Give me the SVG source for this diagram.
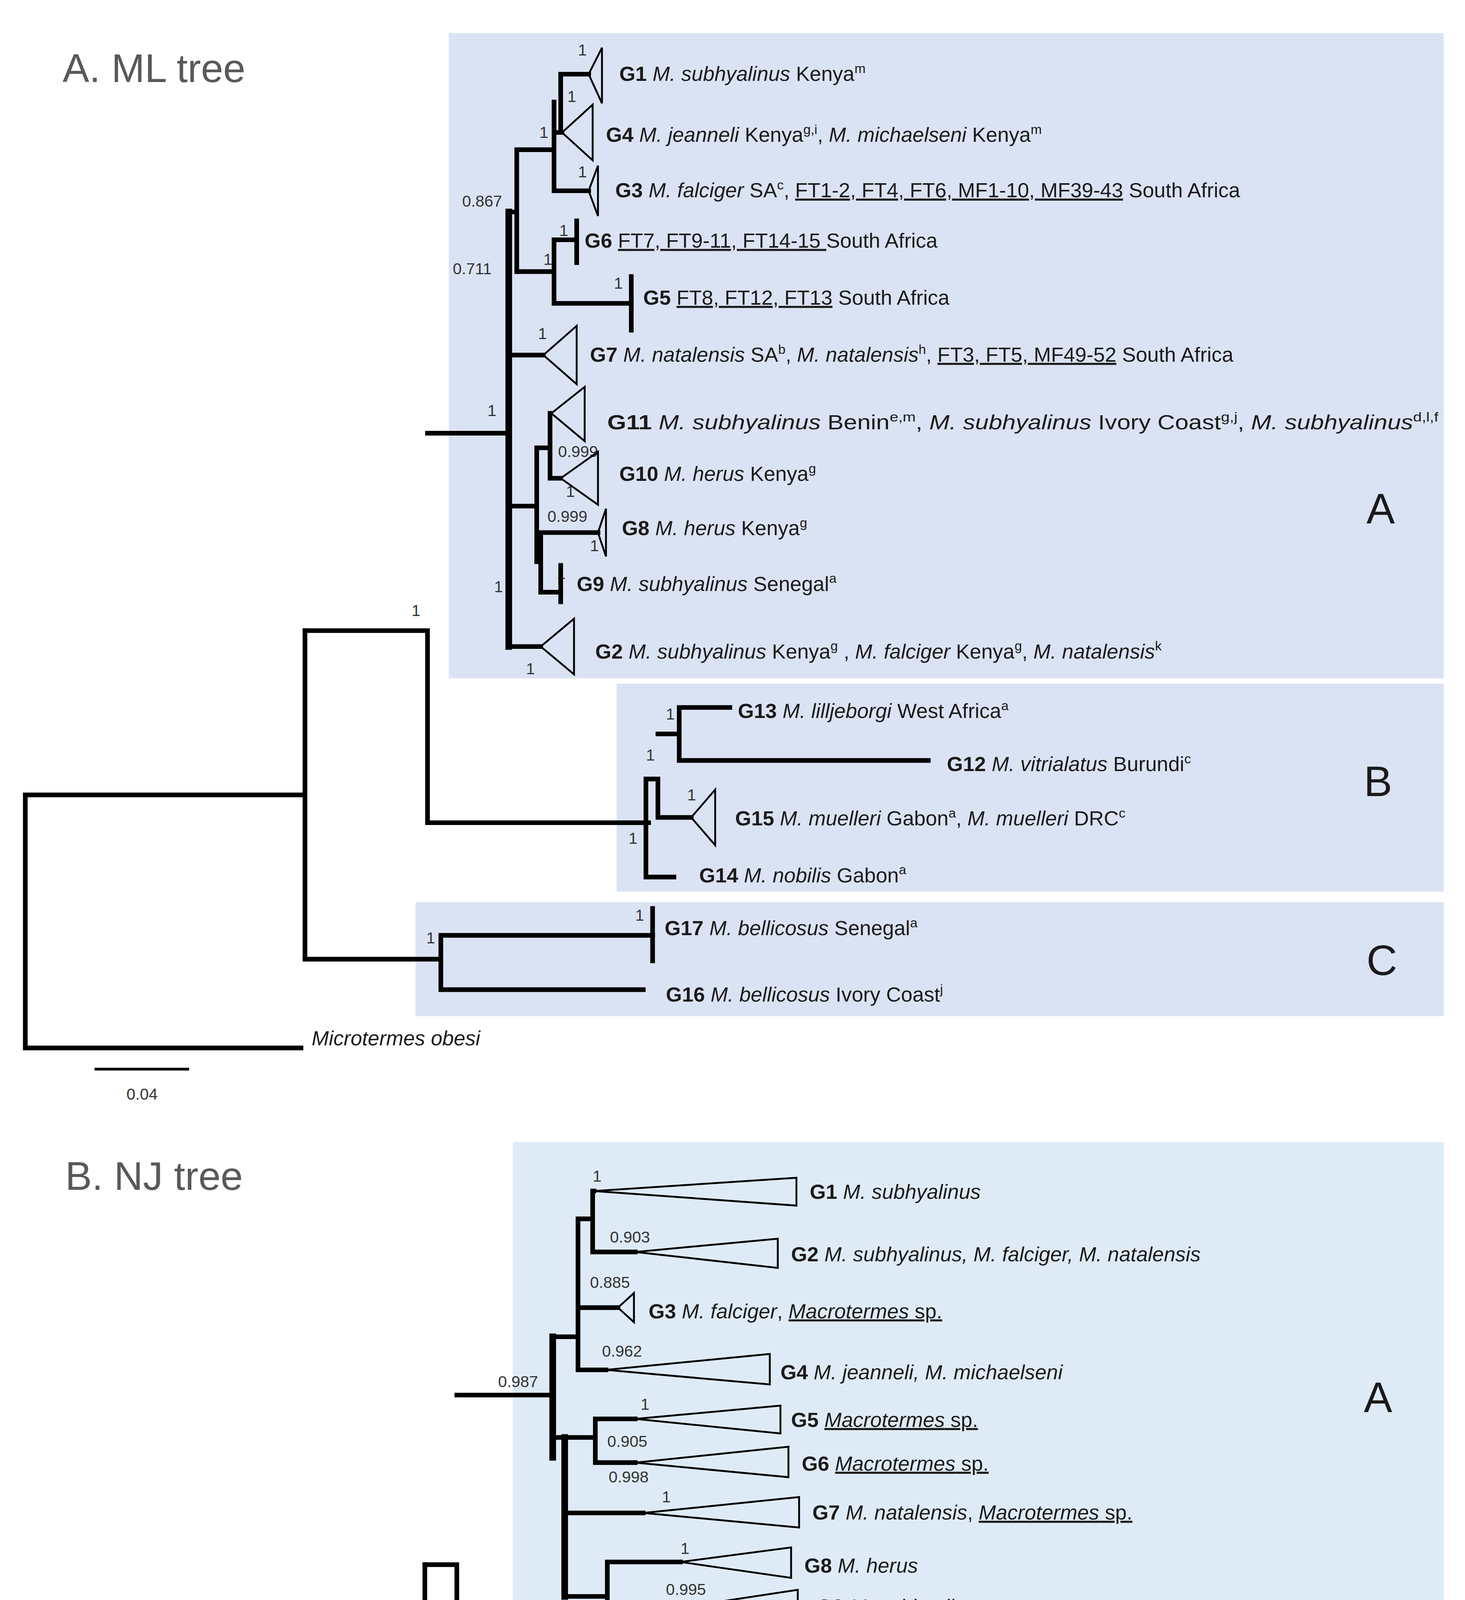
<svg xmlns="http://www.w3.org/2000/svg" width="3750" height="5318" viewBox="0 0 3750 5318">
<style>
text{font-family:"Liberation Sans",Arial,sans-serif;fill:#1a1a1a}
.lb{font-size:15.5px}
.sv{font-size:12px;fill:#333}
.ttl{font-size:30px;fill:#595959}
.cl{font-size:32px}
.b{font-weight:bold}
.i{font-style:italic}
.u{text-decoration:underline}
.sup{font-size:10px}
.br{fill:none;stroke:#000;stroke-width:3.5;stroke-linecap:square;stroke-linejoin:miter}
.tk{fill:none;stroke:#000;stroke-width:5;stroke-linecap:square}
.tri{fill:none;stroke:#000;stroke-width:1.4;stroke-linejoin:miter}
.bar{stroke:#000;stroke-width:3.5}
.sc{stroke:#000;stroke-width:2}
.bg1{fill:#dae3f3}
.bg2{fill:#deebf7}
</style>
<rect width="3750" height="5318" fill="#fff"/>
<g transform="scale(3.40909 3.39158)">
<g id="backgrounds">
<rect class="bg1" x="337" y="25" width="747" height="487"/>
<rect class="bg1" x="463" y="516" width="621" height="157"/>
<rect class="bg1" x="312" y="681" width="772" height="86"/>
<rect class="bg2" x="385" y="862" width="699" height="438"/>
<rect class="bg2" x="379" y="1306" width="705" height="117"/>
<rect class="bg2" x="379" y="1431" width="705" height="69"/>
</g>
<g id="titles">
<text class="ttl" x="47" y="62">A. ML tree</text>
<text class="ttl" x="49" y="898">B. NJ tree</text>
<text class="cl" x="1026" y="395">A</text>
<text class="cl" x="1024" y="601">B</text>
<text class="cl" x="1026" y="736">C</text>
<text class="cl" x="1024" y="1066">A</text>
<text class="cl" x="1024" y="1376">B</text>
<text class="cl" x="1026" y="1480">C</text>
</g>
<g id="connectors">
<!-- ML -->
<path class="br" d="M226 600H19V791H226"/>
<path class="br" d="M229 476V723"/>
<path class="br" d="M229 476H321V621H487"/>
<path class="br" d="M321 327H382"/>
<path class="tk" d="M382 160V488"/>
<path class="br" d="M382 160H388M388 113V205M388 113H416M416 77V144M416 100H422M416 144H442M421 56H442M421 56V100"/>
<path class="br" d="M388 205H416M416 181V229M416 181H433M416 229H474"/>
<path class="br" d="M382 268H408"/>
<path class="br" d="M382 382H403M403 338V424M403 338H413M413 312V361M413 361H421M406 402V447M403 424H406M406 402H449M406 447H421"/>
<path class="br" d="M382 488H406"/>
<path class="br" d="M485 588V662H506M485 588H494V617H519M494 554H510V534H548M510 554V574H697"/>
<path class="br" d="M229 724H331V706H490M331 706V747H483"/>
<!-- NJ -->
<path class="br" d="M319 1302H131V1511H319"/>
<path class="br" d="M319 1181V1461H383"/>
<path class="br" d="M319 1181H343V1353H434M343 1053H415"/>
<path class="tk" d="M415 1009V1100"/>
<path class="br" d="M415 1009H434M434 920V1034M434 920H445M445 899V945M445 899H446M445 945H477M434 987H464M434 1034H455"/>
<path class="tk" d="M424 1085V1205"/>
<path class="br" d="M415 1085H447M447 1071V1104M447 1071H477M447 1104H477M424 1142H483M424 1205H456M456 1179V1232M456 1179H511M456 1232H476"/>
<path class="tk" d="M476 1211V1280"/>
<path class="br" d="M476 1211H527M476 1244H521M476 1280H497"/>
<path class="br" d="M434 1318V1388M434 1318H616M434 1388H467M467 1365V1413M467 1365H486M486 1347V1379M486 1347H584M486 1379H553M467 1413H511"/>
<path class="br" d="M383 1442V1476M383 1442H600M383 1476H586"/>
<line class="sc" x1="71" y1="807" x2="142" y2="807"/>
<line class="sc" x1="160" y1="1527" x2="249" y2="1527"/>
</g>
<g id="support">
<text class="sv" x="434" y="42">1</text>
<text class="sv" x="426" y="77">1</text>
<text class="sv" x="405" y="104">1</text>
<text class="sv" x="434" y="134">1</text>
<text class="sv" x="347" y="156">0.867</text>
<text class="sv" x="340" y="207">0.711</text>
<text class="sv" x="420" y="178">1</text>
<text class="sv" x="408" y="200">1</text>
<text class="sv" x="461" y="218">1</text>
<text class="sv" x="404" y="256">1</text>
<text class="sv" x="366" y="314">1</text>
<text class="sv" x="419" y="345">0.999</text>
<text class="sv" x="425" y="375">1</text>
<text class="sv" x="411" y="394">0.999</text>
<text class="sv" x="443" y="416">1</text>
<text class="sv" x="418" y="437">1</text>
<text class="sv" x="371" y="447">1</text>
<text class="sv" x="395" y="509">1</text>
<text class="sv" x="309" y="465">1</text>
<text class="sv" x="500" y="543">1</text>
<text class="sv" x="485" y="574">1</text>
<text class="sv" x="516" y="604">1</text>
<text class="sv" x="472" y="637">1</text>
<text class="sv" x="320" y="712">1</text>
<text class="sv" x="477" y="695">1</text>
<text class="sv" x="445" y="892">1</text>
<text class="sv" x="458" y="938">0.903</text>
<text class="sv" x="443" y="972">0.885</text>
<text class="sv" x="452" y="1024">0.962</text>
<text class="sv" x="374" y="1047">0.987</text>
<text class="sv" x="481" y="1064">1</text>
<text class="sv" x="456" y="1092">0.905</text>
<text class="sv" x="457" y="1119">0.998</text>
<text class="sv" x="497" y="1134">1</text>
<text class="sv" x="511" y="1173">1</text>
<text class="sv" x="500" y="1204">0.995</text>
<text class="sv" x="497" y="1238">0.959</text>
<text class="sv" x="394" y="1342">0.962</text>
<text class="sv" x="479" y="1398">0.995</text>
<text class="sv" x="395" y="1467">0.894</text>
<text class="sv" x="577" y="1472">1</text>
<text class="sv" x="95" y="830">0.04</text>
<text class="sv" x="191" y="1550">0.02</text>
</g>
<g id="ml-G1"><path class="tri" d="M442 56L452 36V78Z"/><text class="lb" x="465" y="61"><tspan class="b">G1</tspan> <tspan class="i">M. subhyalinus</tspan> Kenya<tspan class="sup" dy="-6">m</tspan></text></g>
<g id="ml-G4"><path class="tri" d="M422 100L445 79V121Z"/><text class="lb" x="455" y="107"><tspan class="b">G4</tspan> <tspan class="i">M. jeanneli</tspan> Kenya<tspan class="sup" dy="-6">g,i</tspan><tspan dy="6">, </tspan><tspan class="i">M. michaelseni</tspan> Kenya<tspan class="sup" dy="-6">m</tspan></text></g>
<g id="ml-G3"><path class="tri" d="M442 144L449 125V163Z"/><text class="lb" x="462" y="149"><tspan class="b">G3</tspan> <tspan class="i">M. falciger</tspan> SA<tspan class="sup" dy="-6">c</tspan><tspan dy="6">, </tspan><tspan class="u">FT1-2, FT4, FT6, MF1-10, MF39-43</tspan> South Africa</text></g>
<g id="ml-G6"><line class="bar" x1="433" y1="165" x2="433" y2="200"/><text class="lb" x="439" y="187"><tspan class="b">G6</tspan> <tspan class="u">FT7, FT9-11, FT14-15 </tspan>South Africa</text></g>
<g id="ml-G5"><line class="bar" x1="474" y1="207" x2="474" y2="251"/><text class="lb" x="483" y="230"><tspan class="b">G5</tspan> <tspan class="u">FT8, FT12, FT13</tspan> South Africa</text></g>
<g id="ml-G7"><path class="tri" d="M408 268L433 246V290Z"/><text class="lb" x="443" y="273"><tspan class="b">G7</tspan> <tspan class="i">M. natalensis</tspan> SA<tspan class="sup" dy="-6">b</tspan><tspan dy="6">, </tspan><tspan class="i">M. natalensis</tspan><tspan class="sup" dy="-6">h</tspan><tspan dy="6">, </tspan><tspan class="u">FT3, FT5, MF49-52</tspan> South Africa</text></g>
<g id="ml-G11"><path class="tri" d="M414 312L439 292V333Z"/><text class="lb" x="456" y="324" textLength="624" lengthAdjust="spacingAndGlyphs"><tspan class="b">G11</tspan> <tspan class="i">M. subhyalinus</tspan> Benin<tspan class="sup" dy="-6">e,m</tspan><tspan dy="6">, </tspan><tspan class="i">M. subhyalinus</tspan> Ivory Coast<tspan class="sup" dy="-6">g,j</tspan><tspan dy="6">, </tspan><tspan class="i">M. subhyalinus</tspan><tspan class="sup" dy="-6">d,l,f</tspan></text></g>
<g id="ml-G10"><path class="tri" d="M421 361L449 341V381Z"/><text class="lb" x="465" y="363"><tspan class="b">G10</tspan> <tspan class="i">M. herus</tspan> Kenya<tspan class="sup" dy="-6">g</tspan></text></g>
<g id="ml-G8"><path class="tri" d="M449 402L455 384V420Z"/><text class="lb" x="467" y="404"><tspan class="b">G8</tspan> <tspan class="i">M. herus</tspan> Kenya<tspan class="sup" dy="-6">g</tspan></text></g>
<g id="ml-G9"><line class="bar" x1="421" y1="425" x2="421" y2="456"/><text class="lb" x="433" y="446"><tspan class="b">G9</tspan> <tspan class="i">M. subhyalinus</tspan> Senegal<tspan class="sup" dy="-6">a</tspan></text></g>
<g id="ml-G2"><path class="tri" d="M406 488L431 467V509Z"/><text class="lb" x="447" y="497"><tspan class="b">G2</tspan> <tspan class="i">M. subhyalinus</tspan> Kenya<tspan class="sup" dy="-6">g</tspan><tspan dy="6"> , </tspan><tspan class="i">M. falciger</tspan> Kenya<tspan class="sup" dy="-6">g</tspan><tspan dy="6">, </tspan><tspan class="i">M. natalensis</tspan><tspan class="sup" dy="-6">k</tspan></text></g>
<g id="ml-G13"><text class="lb" x="554" y="542"><tspan class="b">G13</tspan> <tspan class="i">M. lilljeborgi</tspan> West Africa<tspan class="sup" dy="-6">a</tspan></text></g>
<g id="ml-G12"><text class="lb" x="711" y="582"><tspan class="b">G12</tspan> <tspan class="i">M. vitrialatus</tspan> Burundi<tspan class="sup" dy="-6">c</tspan></text></g>
<g id="ml-G15"><path class="tri" d="M519 617L537 596V638Z"/><text class="lb" x="552" y="623"><tspan class="b">G15</tspan> <tspan class="i">M. muelleri</tspan> Gabon<tspan class="sup" dy="-6">a</tspan><tspan dy="6">, </tspan><tspan class="i">M. muelleri</tspan> DRC<tspan class="sup" dy="-6">c</tspan></text></g>
<g id="ml-G14"><text class="lb" x="525" y="666"><tspan class="b">G14</tspan> <tspan class="i">M. nobilis</tspan> Gabon<tspan class="sup" dy="-6">a</tspan></text></g>
<g id="ml-G17"><line class="bar" x1="490" y1="684" x2="490" y2="727"/><text class="lb" x="499" y="706"><tspan class="b">G17</tspan> <tspan class="i">M. bellicosus</tspan> Senegal<tspan class="sup" dy="-6">a</tspan></text></g>
<g id="ml-G16"><text class="lb" x="500" y="756"><tspan class="b">G16</tspan> <tspan class="i">M. bellicosus</tspan> Ivory Coast<tspan class="sup" dy="-6">j</tspan></text></g>
<g id="ml-out"><text class="lb i" x="234" y="789">Microtermes obesi</text></g>

<g id="nj-G1"><path class="tri" d="M446 899L598 889V910Z"/><text class="lb" x="608" y="905"><tspan class="b">G1</tspan> <tspan class="i">M. subhyalinus</tspan></text></g>
<g id="nj-G2"><path class="tri" d="M477 945L584 935V957Z"/><text class="lb" x="594" y="952"><tspan class="b">G2</tspan> <tspan class="i">M. subhyalinus, M. falciger, M. natalensis</tspan></text></g>
<g id="nj-G3"><path class="tri" d="M464 987L476 976V998Z"/><text class="lb" x="487" y="995"><tspan class="b">G3</tspan> <tspan class="i">M. falciger</tspan>, <tspan class="u i">Macrotermes</tspan><tspan class="u"> sp.</tspan></text></g>
<g id="nj-G4"><path class="tri" d="M455 1034L578 1022V1045Z"/><text class="lb" x="586" y="1041"><tspan class="b">G4</tspan> <tspan class="i">M. jeanneli, M. michaelseni</tspan></text></g>
<g id="nj-G5"><path class="tri" d="M477 1071L586 1061V1082Z"/><text class="lb" x="594" y="1077"><tspan class="b">G5</tspan> <tspan class="u i">Macrotermes</tspan><tspan class="u"> sp.</tspan></text></g>
<g id="nj-G6"><path class="tri" d="M477 1104L592 1092V1115Z"/><text class="lb" x="602" y="1110"><tspan class="b">G6</tspan> <tspan class="u i">Macrotermes</tspan><tspan class="u"> sp.</tspan></text></g>
<g id="nj-G7"><path class="tri" d="M483 1142L600 1130V1153Z"/><text class="lb" x="610" y="1147"><tspan class="b">G7</tspan> <tspan class="i">M. natalensis</tspan>, <tspan class="u i">Macrotermes</tspan><tspan class="u"> sp. </tspan></text></g>
<g id="nj-G8"><path class="tri" d="M511 1179L594 1168V1191Z"/><text class="lb" x="604" y="1187"><tspan class="b">G8</tspan> <tspan class="i">M. herus</tspan></text></g>
<g id="nj-G9"><path class="tri" d="M527 1211L599 1200V1222Z"/><text class="lb" x="613" y="1218"><tspan class="b">G9</tspan> <tspan class="i">M. subhyalinus</tspan></text></g>
<g id="nj-G10"><path class="tri" d="M521 1244L594 1233V1255Z"/><text class="lb" x="604" y="1251"><tspan class="b">G10</tspan> <tspan class="i">M. herus</tspan></text></g>
<g id="nj-G11"><path class="tri" d="M497 1280L540 1270V1291Z"/><text class="lb" x="551" y="1287"><tspan class="b">G11</tspan> <tspan class="i">M. subhyalinus</tspan></text></g>
<g id="nj-G12"><text class="lb" x="634" y="1326"><tspan class="b">G12</tspan> <tspan class="i">M. vitrialatus</tspan></text></g>
<g id="nj-G13"><text class="lb" x="596" y="1355"><tspan class="b">G13</tspan> <tspan class="i">M. lilljeborgi</tspan></text></g>
<g id="nj-G14"><text class="lb" x="567" y="1385"><tspan class="b">G14</tspan> <tspan class="i">M. nobilis</tspan></text></g>
<g id="nj-G15"><path class="tri" d="M511 1413L598 1401V1425Z"/><text class="lb" x="612" y="1419"><tspan class="b">G15</tspan> <tspan class="i">M. muelleri</tspan></text></g>
<g id="nj-G16"><text class="lb" x="614" y="1451"><tspan class="b">G16</tspan> <tspan class="i">M. bellicosus</tspan></text></g>
<g id="nj-G17"><line class="bar" x1="588" y1="1459" x2="588" y2="1492"/><text class="lb" x="600" y="1488"><tspan class="b">G17</tspan> <tspan class="i">M. bellicosus</tspan></text></g>
<g id="nj-out"><text class="lb i" x="331" y="1522">Microtermes obesi</text></g>
</g>
</svg>
